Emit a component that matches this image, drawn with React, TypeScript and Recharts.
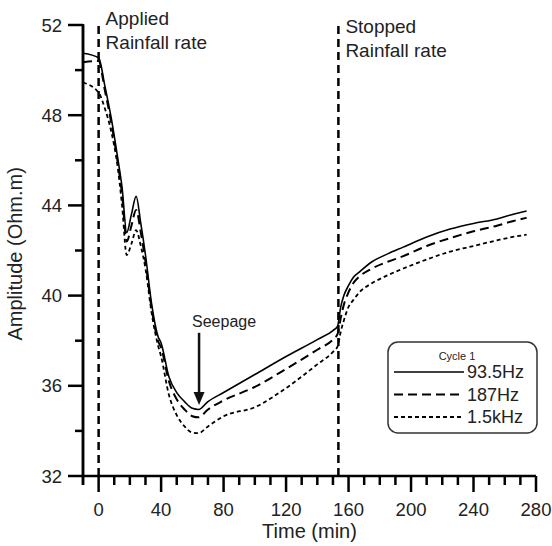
import React from "react";
import { LineChart, Line, XAxis, YAxis, ReferenceLine, Legend } from "recharts";

const TIME = [-10, 0, 4, 8, 12, 15, 18, 21, 24, 27, 30, 34, 38, 40, 45, 50, 55, 60, 64, 70, 80, 100, 120, 140, 150, 153, 155, 157, 160, 163, 167, 175, 185, 195, 210, 225, 240, 255, 265, 274];
const HZ_93_5 = [50.75, 50.55, 49.3, 47.9, 46.2, 44.8, 42.8, 43.6, 44.4, 43.2, 41.8, 39.6, 38.2, 37.9, 36.4, 35.7, 35.3, 35.0, 34.95, 35.3, 35.7, 36.5, 37.3, 38.05, 38.45, 38.65, 39.5, 40.0, 40.45, 40.8, 41.05, 41.5, 41.85, 42.15, 42.6, 42.95, 43.2, 43.4, 43.6, 43.75];
const HZ_187 = [50.35, 50.4, 49.1, 47.7, 46.0, 44.5, 42.4, 43.1, 43.8, 42.8, 41.5, 39.4, 38.0, 37.7, 36.2, 35.4, 34.95, 34.65, 34.6, 34.95, 35.35, 35.95, 36.75, 37.6, 38.05, 38.3, 39.0, 39.6, 40.15, 40.55, 40.85, 41.2, 41.5, 41.75, 42.2, 42.55, 42.85, 43.1, 43.3, 43.45];
const KHZ_1_5 = [49.45, 49.0, 48.3, 47.3, 45.8, 44.0, 41.8, 42.3, 42.9, 42.2, 41.2, 39.2, 37.8, 37.3, 35.6, 34.7, 34.2, 33.92, 33.9, 34.2, 34.65, 35.05, 35.9, 36.95, 37.5, 37.75, 38.4, 38.9, 39.5, 39.8, 40.15, 40.55, 40.9, 41.2, 41.6, 41.95, 42.2, 42.45, 42.6, 42.7];

const X_TICKS = [-10, 0, 10, 20, 30, 40, 50, 60, 70, 80, 90, 100, 110, 120, 130, 140, 150, 160, 170, 180, 190, 200, 210, 220, 230, 240, 250, 260, 270, 280];
const Y_TICKS = [32, 34, 36, 38, 40, 42, 44, 46, 48, 50, 52];

const RAIN_START = 0;
const RAIN_STOP = 153.5;
const SEEPAGE_T = 64.3;

const SERIES = [
  { key: "a", name: "93.5Hz", dash: undefined, width: 1.6 },
  { key: "b", name: "187Hz", dash: "9 5", width: 2 },
  { key: "c", name: "1.5kHz", dash: "4 3", width: 1.8 },
];

const data = TIME.map((t, i) => ({ t, a: HZ_93_5[i], b: HZ_187[i], c: KHZ_1_5[i] }));

const FONT = "'Liberation Sans', Arial, sans-serif";
const INK = "#222";
const W = 552;
const H = 546;
const M = { top: 25, right: 16, bottom: 40, left: 23 };
const PLOT_H = H - M.top - M.bottom - 30;

const XTick = (props: any) => {
  const { x, y, payload } = props;
  const major = payload.value % 40 === 0;
  return (
    <g>
      <line x1={x} x2={x} y1={y} y2={y + (major ? 16 : 9)} stroke="#000" strokeWidth={2.5} />
      {major && (
        <text x={x} y={y + 40} textAnchor="middle" fontSize={18.5} fontFamily={FONT} fill={INK}>
          {payload.value}
        </text>
      )}
    </g>
  );
};

const YTick = (props: any) => {
  const { x, y, payload } = props;
  const major = payload.value % 4 === 0;
  const top = payload.value === Y_TICKS[Y_TICKS.length - 1];
  return (
    <g>
      {top && <line x1={x} x2={x} y1={y - 1} y2={y + PLOT_H + 9} stroke="#000" strokeWidth={2.5} />}
      <line x1={x} x2={x - (major ? 15 : 8)} y1={y} y2={y} stroke="#000" strokeWidth={2.5} />
      {major && (
        <text x={x - 21} y={y + 6.5} textAnchor="end" fontSize={18.5} fontFamily={FONT} fill={INK}>
          {payload.value}
        </text>
      )}
    </g>
  );
};

const twoLines = (a: string, b: string, dy: number) => (props: any) => {
  const vb = props.viewBox || {};
  const x = vb.x + 7;
  const y = vb.y;
  return (
    <g>
      <text x={x} y={y + dy} fontSize={19} fontFamily={FONT} fill={INK}>{a}</text>
      <text x={x} y={y + dy + 24} fontSize={19} fontFamily={FONT} fill={INK}>{b}</text>
    </g>
  );
};

const SeepageArrow = (props: any) => {
  const { x1, y1, x2, y2 } = props;
  return (
    <g>
      <line x1={x1} y1={y1} x2={x2} y2={y2 - 10} stroke="#111" strokeWidth={2.5} />
      <polygon points={`${x2 - 5.5},${y2 - 13} ${x2 + 5.5},${y2 - 13} ${x2},${y2}`} fill="#111" />
      <text x={x1 + 25} y={y1 - 6} textAnchor="middle" fontSize={16} fontFamily={FONT} fill={INK}>
        Seepage
      </text>
    </g>
  );
};

const LegendBox = () => (
  <svg width={152} height={94} style={{ display: "block" }}>
    <rect x={1} y={1} width={149} height={91} rx={10} ry={10} fill="#fff" stroke="#333" strokeWidth={1.5} />
    <text x={70} y={19} textAnchor="middle" fontSize={11} fontFamily={FONT} fill={INK}>Cycle 1</text>
    {SERIES.map((s, i) => {
      const yy = 31 + i * 22.5;
      return (
        <g key={s.key}>
          <line x1={7} x2={77} y1={yy} y2={yy} stroke="#000" strokeWidth={s.width} strokeDasharray={s.dash} />
          <text x={80} y={yy + 6} fontSize={18} fontFamily={FONT} fill={INK}>{s.name}</text>
        </g>
      );
    })}
  </svg>
);

export default function App() {
  return (
    <div style={{ position: "absolute", left: 0, top: 0, width: W, height: H, background: "#fff" }}>
      <LineChart width={W} height={H} data={data} margin={M}>
        <XAxis
          dataKey="t"
          type="number"
          domain={[-10, 280]}
          ticks={X_TICKS}
          interval={0}
          tickSize={0}
          tickMargin={0}
          tickLine={false}
          tick={XTick}
          height={30}
          axisLine={{ stroke: "#000", strokeWidth: 2.5 }}
          label={{ value: "Time (min)", position: "insideBottom", offset: -32, fontSize: 20, fontFamily: FONT, fill: INK }}
        />
        <YAxis
          type="number"
          domain={[32, 52]}
          ticks={Y_TICKS}
          interval={0}
          width={60}
          tickSize={0}
          tickMargin={0}
          tickLine={false}
          tick={YTick}
          axisLine={{ stroke: "#000", strokeWidth: 2.5 }}
          label={{ value: "Amplitude (Ohm.m)", angle: -90, position: "insideLeft", offset: -8, fontSize: 20, fontFamily: FONT, fill: INK, dy: 90 }}
        />
        <ReferenceLine x={RAIN_START} stroke="#000" strokeWidth={2.5} strokeDasharray="8 5" label={twoLines("Applied", "Rainfall rate", 0)} />
        <ReferenceLine x={RAIN_STOP} stroke="#000" strokeWidth={2.5} strokeDasharray="8 5" label={twoLines("Stopped", "Rainfall rate", 8)} />
        {SERIES.map((s) => (
          <Line
            key={s.key}
            dataKey={s.key}
            name={s.name}
            type="monotone"
            stroke="#000"
            strokeWidth={s.width}
            strokeDasharray={s.dash}
            dot={false}
            isAnimationActive={false}
          />
        ))}
        <ReferenceLine
          segment={[{ x: SEEPAGE_T, y: 38.35 }, { x: SEEPAGE_T, y: 35.15 }]}
          shape={SeepageArrow}
        />
        <Legend
          layout="vertical"
          align="center"
          verticalAlign="middle"
          content={LegendBox}
          wrapperStyle={{ left: 387, top: 341, width: 152, height: 94 }}
        />
      </LineChart>
    </div>
  );
}
